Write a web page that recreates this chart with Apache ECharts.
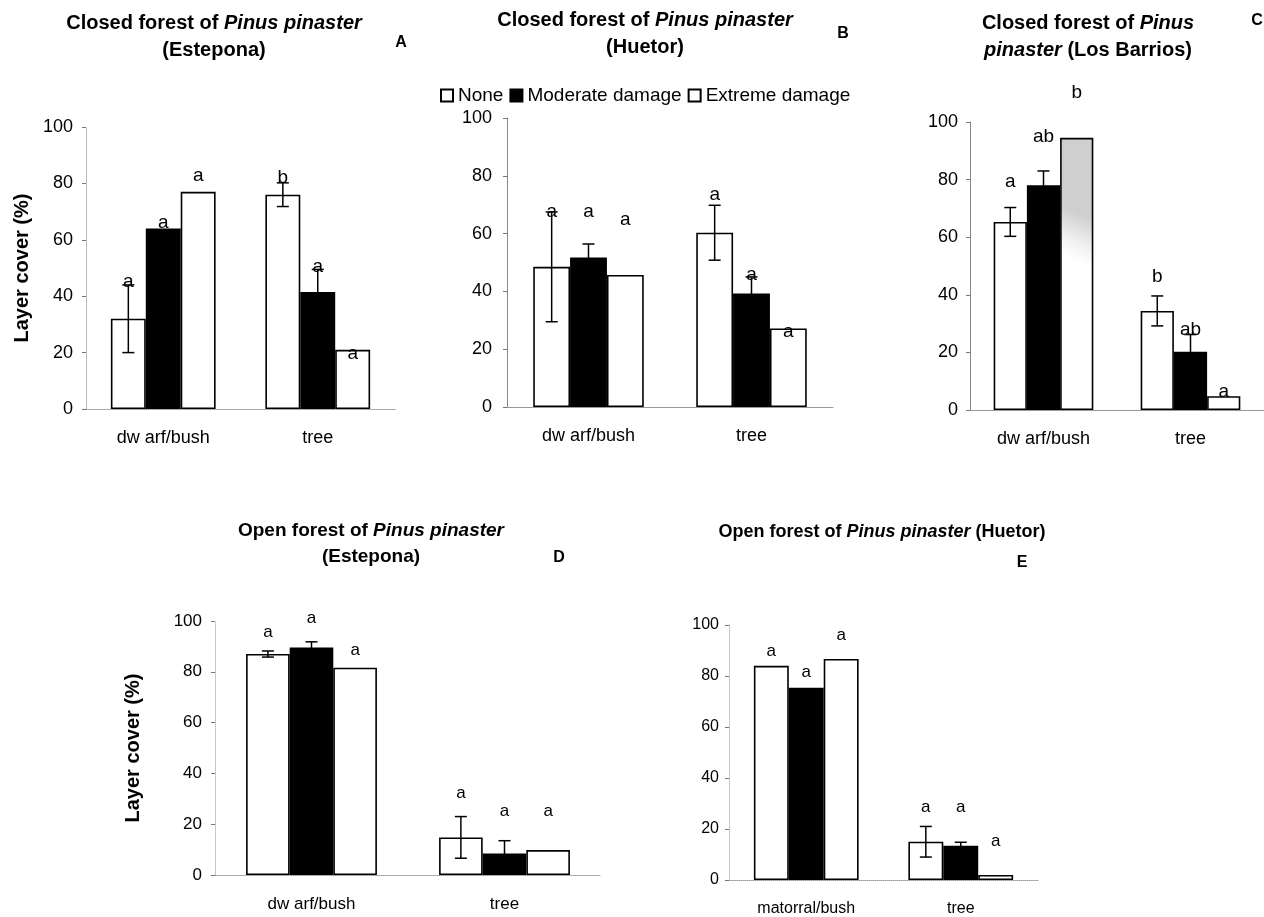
<!DOCTYPE html>
<html>
<head>
<meta charset="utf-8">
<script src="https://cdn.jsdelivr.net/npm/echarts@6/dist/echarts.min.js"></script>
</head>
<body style="margin:0;background:#fff">
<div id="container" style="width:1264px;height:917px"></div>
<script>
var levels = ['None', 'Moderate damage', 'Extreme damage'];
var layers = ['dw arf/bush', 'tree'];
var layersE = ['matorral/bush', 'tree'];

// mean layer cover (%) per damage level, as [dwarf/bush, tree]
var coverA = [[32, 76], [64, 41.5], [77, 21]];
var errA = [[12, 4.2], [null, 8], [null, null]];
var lettersA = [['a', 'b'], ['a', 'a'], ['a', 'a']];
var letterAtA = [[45, 82], [66, 50.5], [82.7, 19.7]];

var coverB = [[48.5, 60.3], [51.7, 39.3], [45.7, 27.2]];
var errB = [[19, 9.5], [4.7, 5.7], [null, null]];
var lettersB = [['a', 'a'], ['a', 'a'], ['a', 'a']];
var letterAtB = [[67.6, 73.4], [67.6, 45.7], [64.7, 26]];

var coverC = [[65.3, 34.4], [78, 20.2], [94.5, 4.8]];
var errC = [[5, 5.2], [5, 6], [null, null]];
var lettersC = [['a', 'b'], ['ab', 'ab'], ['b', 'a']];
var letterAtC = [[79.3, 46.3], [94.9, 27.8], [110, 6.4]];

var coverD = [[87, 14.8], [89.6, 8.5], [81.6, 9.8]];
var errD = [[1.2, 8.2], [2.2, 5], [null, null]];
var lettersD = [['a', 'a'], ['a', 'a'], ['a', 'a']];
var letterAtD = [[95.5, 32.2], [100.9, 24.9], [88.3, 24.9]];

var coverE = [[84, 15], [75.4, 13.4], [86.7, 2]];
var errE = [[null, 6], [null, 1.4], [null, null]];
var lettersE = [['a', 'a'], ['a', 'a'], ['a', 'a']];
var letterAtE = [[89.5, 28.7], [81.6, 28.7], [96, 15.3]];

var FONT = '"Liberation Sans", Arial, sans-serif';
var FRAC = 0.226; // bar width as part of a category band

var panels = [
  {cover: coverA, err: errA, letters: lettersA, letterAt: letterAtA, cats: layers,
   grid: {left: 86, top: 127, width: 309, height: 282},
   tick: 18, lab: 18, letter: 19, ymargin: 13, xmargin: 20, yName: 54, yType: 'dotted', yCol: '#aaa'},
  {cover: coverB, err: errB, letters: lettersB, letterAt: letterAtB, cats: layers,
   grid: {left: 507, top: 118, width: 326, height: 289},
   tick: 18, lab: 18, letter: 19, ymargin: 15, xmargin: 20, yType: 'solid', yCol: '#888'},
  {cover: coverC, err: errC, letters: lettersC, letterAt: letterAtC, cats: layers,
   grid: {left: 970, top: 122, width: 298, height: 288},
   tick: 18, lab: 18, letter: 19, ymargin: 12, xmargin: 20, yType: 'solid', yCol: '#888', stipple: true},
  {cover: coverD, err: errD, letters: lettersD, letterAt: letterAtD, cats: layers,
   grid: {left: 215, top: 621, width: 386, height: 254},
   tick: 17, lab: 17, letter: 17, ymargin: 13, xmargin: 21, yName: 72, yType: 'dotted', yCol: '#bbb'},
  {cover: coverE, err: errE, letters: lettersE, letterAt: letterAtE, cats: layersE,
   grid: {left: 729, top: 625, width: 309, height: 255},
   tick: 16, lab: 16, letter: 17, ymargin: 10, xmargin: 21, yType: 'dotted', yCol: '#bbb'}
];

function richTitle(text, x, y, size, lh) {
  var st = {fontFamily: FONT, fontSize: size, fontWeight: 'bold', color: '#000', lineHeight: lh};
  return {
    text: text, left: x, top: y, padding: 0,
    textAlign: 'center', textVerticalAlign: 'middle',
    textStyle: {
      fontFamily: FONT, fontSize: size, fontWeight: 'bold', color: '#000', lineHeight: lh,
      rich: {
        r: st,
        i: Object.assign({}, st, {fontStyle: 'italic'})
      }
    }
  };
}

var titles = [
  richTitle('{r|Closed forest of }{i|Pinus pinaster}\n{r|(Estepona)}', 214, 36.5, 20, 27),
  richTitle('{r|Closed forest of }{i|Pinus pinaster}\n{r|(Huetor)}', 645, 33.7, 20, 27),
  richTitle('{r|Closed forest of }{i|Pinus}\n{i|pinaster}{r| (Los Barrios)}', 1088, 36.7, 20, 27),
  richTitle('{r|Open forest of }{i|Pinus pinaster}\n{r|(Estepona)}', 371, 544, 19, 26.5),
  richTitle('{r|Open forest of }{i|Pinus pinaster}{r| (Huetor)}', 882, 532, 18, 26),
  richTitle('A', 401, 42.5, 16, 20),
  richTitle('B', 843, 34, 16, 20),
  richTitle('C', 1257, 21, 16, 20),
  richTitle('D', 559, 557.5, 16, 20),
  richTitle('E', 1022, 563, 16, 20)
];

var grids = [], xAxes = [], yAxes = [], series = [];

panels.forEach(function (p, i) {
  grids.push(p.grid);
  xAxes.push({
    gridIndex: i, type: 'category', data: p.cats,
    axisTick: {show: false},
    axisLine: {lineStyle: {color: '#999', width: 1, type: p.yType}},
    axisLabel: {margin: p.xmargin, fontSize: p.lab, color: '#000', fontFamily: FONT}
  });
  var ya = {
    gridIndex: i, type: 'value', min: 0, max: 100, interval: 20,
    axisLine: {show: true, lineStyle: {color: p.yCol, width: 1, type: p.yType}},
    axisTick: {show: true, length: 4, lineStyle: {color: '#777'}},
    axisLabel: {margin: p.ymargin, fontSize: p.tick, color: '#000', fontFamily: FONT},
    splitLine: {show: false}
  };
  if (p.yName) {
    ya.name = 'Layer cover (%)';
    ya.nameLocation = 'middle';
    ya.nameRotate = 90;
    ya.nameGap = p.yName;
    ya.nameTextStyle = {fontFamily: FONT, fontSize: 20, fontWeight: 'bold', color: '#000'};
  }
  yAxes.push(ya);

  var errItems = [], letterItems = [];
  levels.forEach(function (name, l) {
    var data = p.cover[l].map(function (v, c) {
      if (p.stipple && l === 2 && c === 0) {
        // faint stippling on the right side of this bar in the scan
        return {value: v, itemStyle: {color: {
          type: 'linear', x: 1, y: 0.3, x2: 0.45, y2: 0.45,
          colorStops: [{offset: 0, color: '#cfcfcf'}, {offset: 0.6, color: '#f0f0f0'}, {offset: 1, color: '#fff'}]
        }}};
      }
      return v;
    });
    series.push({
      name: name, type: 'bar', xAxisIndex: i, yAxisIndex: i, data: data,
      barWidth: (FRAC * 100) + '%', barGap: '0%',
      itemStyle: {color: l === 1 ? '#000' : '#fff', borderColor: '#000', borderWidth: 1.6},
      animation: false
    });
    p.cover[l].forEach(function (v, c) {
      if (p.err[l][c] != null) errItems.push({cat: c, lvl: l, v: v, e: p.err[l][c]});
      letterItems.push({cat: c, lvl: l, y: p.letterAt[l][c], t: p.letters[l][c]});
    });
  });

  series.push({
    type: 'custom', xAxisIndex: i, yAxisIndex: i, z: 5, animation: false, silent: true,
    data: errItems.map(function (it) { return [it.cat, it.v]; }),
    encode: {x: 0, y: 1},
    renderItem: function (params, api) {
      var it = errItems[params.dataIndex];
      var band = api.size([1, 0])[0];
      var x = api.coord([it.cat, 0])[0] + (it.lvl - 1) * band * FRAC;
      var yHi = api.coord([it.cat, it.v + it.e])[1];
      var yLo = api.coord([it.cat, it.v - it.e])[1];
      var st = {stroke: '#000', lineWidth: 1.5};
      return {type: 'group', children: [
        {type: 'line', shape: {x1: x, y1: yHi, x2: x, y2: yLo}, style: st},
        {type: 'line', shape: {x1: x - 6, y1: yHi, x2: x + 6, y2: yHi}, style: st},
        {type: 'line', shape: {x1: x - 6, y1: yLo, x2: x + 6, y2: yLo}, style: st}
      ]};
    }
  });

  series.push({
    type: 'custom', xAxisIndex: i, yAxisIndex: i, z: 6, animation: false, silent: true,
    data: letterItems.map(function (it) { return [it.cat, it.y]; }),
    encode: {x: 0, y: 1},
    renderItem: function (params, api) {
      var it = letterItems[params.dataIndex];
      var band = api.size([1, 0])[0];
      var pt = api.coord([it.cat, it.y]);
      return {
        type: 'text', x: pt[0] + (it.lvl - 1) * band * FRAC, y: pt[1],
        style: {
          text: it.t, fill: '#000', font: p.letter + 'px ' + FONT,
          align: 'center', verticalAlign: 'middle',
          textAlign: 'center', textVerticalAlign: 'middle'
        }
      };
    }
  });
});

var myChart = echarts.init(document.getElementById('container'));
myChart.setOption({
  backgroundColor: '#fff',
  animation: false,
  title: titles,
  legend: {
    data: levels, left: 440, top: 86, padding: 0, icon: 'rect',
    itemWidth: 12, itemHeight: 12, itemGap: 6, selectedMode: false,
    textStyle: {fontFamily: FONT, fontSize: 19, color: '#000'}
  },
  grid: grids,
  xAxis: xAxes,
  yAxis: yAxes,
  series: series
});
</script>
</body>
</html>
